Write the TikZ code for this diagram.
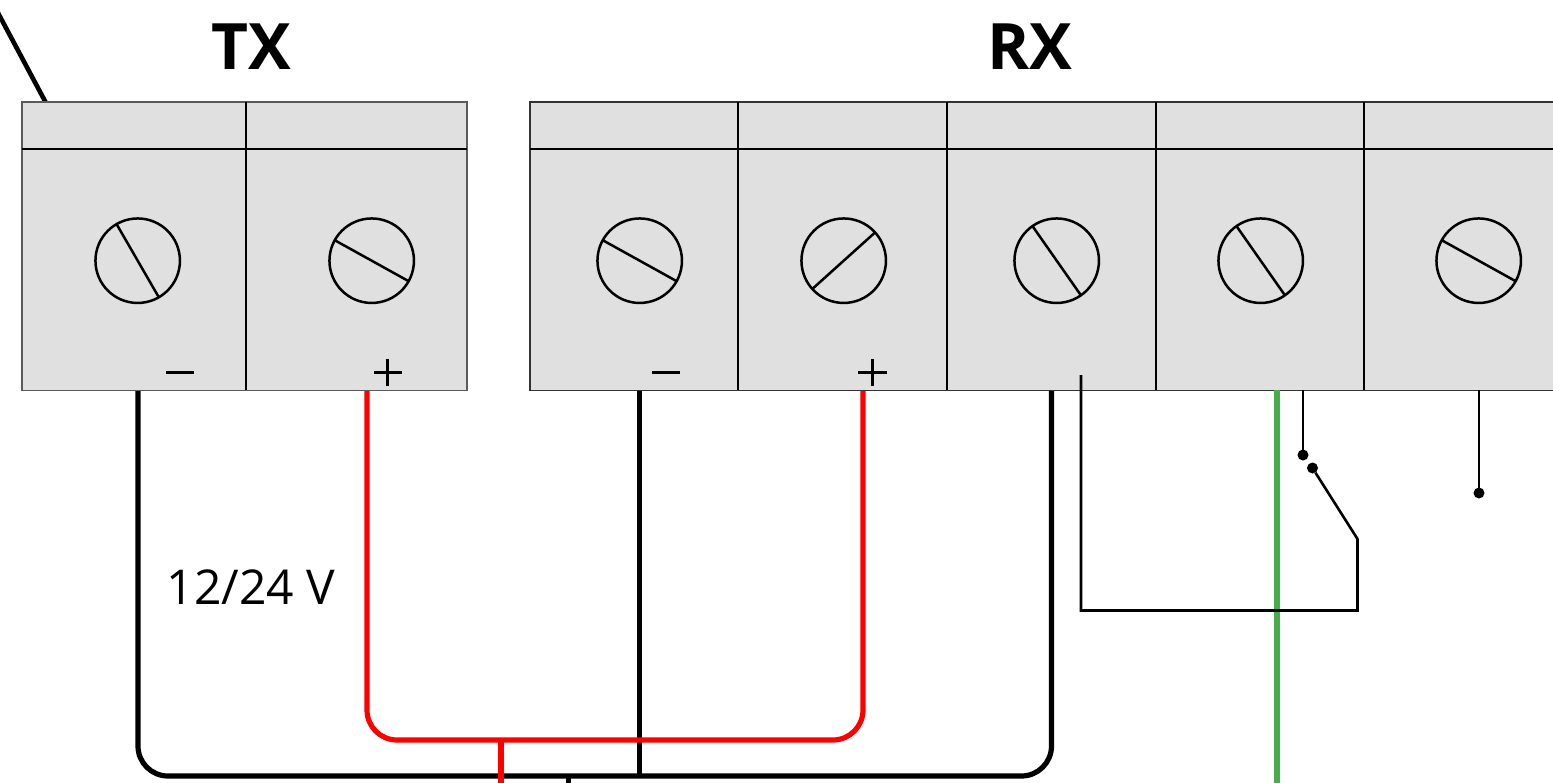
\documentclass[tikz,border=0pt]{standalone}
\usepackage{fontspec}
\setmainfont{Open Sans}
\definecolor{cellgrey}{HTML}{E0E0E0}
\definecolor{edgegrey}{HTML}{5A5A5A}
\definecolor{wirered}{HTML}{FF0000}
\definecolor{wiregreen}{HTML}{46AF4A}
\begin{document}
\begin{tikzpicture}[x=1pt,y=-1pt,
  blockbox/.style={draw=edgegrey,fill=cellgrey,line width=1.9pt,minimum height=288.5pt,anchor=north west,inner sep=0pt,outer sep=0pt},
  rule/.style={draw=black,line width=2pt},
  screw/.style={circle,draw=black,line width=2.5pt,minimum size=84.5pt,inner sep=0pt,outer sep=0pt},
  slot/.style={draw=black,line width=2.5pt},
  sign/.style={draw=black,line width=2.4pt},
  powerwire/.style={draw=black,line width=5.2pt,rounded corners=30pt},
  redwire/.style={draw=wirered,line width=5.2pt,rounded corners=30pt},
  greenwire/.style={draw=wiregreen,line width=5.4pt},
  thinwire/.style={draw=black,line width=2.6pt,line join=miter},
  contact/.style={circle,fill=black,minimum size=11pt,inner sep=0pt,outer sep=0pt},
  title/.style={font=\bfseries\fontsize{64}{64}\selectfont,inner sep=0pt,anchor=base},
  volt/.style={font=\fontsize{48}{48}\selectfont,inner sep=0pt,anchor=base}]
\useasboundingbox (0,0) rectangle (1553,782);
\clip (0,0) rectangle (1553,782);
\fill[white] (0,0) rectangle (1553,782);

% antenna
\coordinate (antA) at (-3,11);
\coordinate (antB) at (46,103);
\draw[black,line width=4.6pt] (antA) -- (antB);

% wire end points
\coordinate (txneg) at (138,390);
\coordinate (txpos) at (367,390);
\coordinate (rxneg) at (639.5,390);
\coordinate (rxpos) at (863,390);
\coordinate (rxcom) at (1051.5,390);
\coordinate (rxgrn) at (1277,390);
\coordinate (redbus) at (501,740);
\coordinate (blkbus) at (639.5,776);
\coordinate (redout) at (501,790);
\coordinate (blkstub) at (568.5,776);
\coordinate (blkout) at (568.5,790);
\coordinate (grnout) at (1277,790);
\coordinate (t6) at (1303,390);
\coordinate (t7) at (1479,390);

% power wires
\draw[powerwire] (txneg) |- (rxcom |- blkbus) -- (rxcom);
\draw[black,line width=5.2pt] (rxneg) -- (blkbus);
\draw[black,line width=4.4pt] (blkstub) -- (blkout);
\draw[redwire] (txpos) |- (rxpos |- redbus) -- (rxpos);
\draw[draw=wirered,line width=5.2pt] (redbus) -- (redout);

% blocks
\node[blockbox,minimum width=445pt] (tx) at (22,102) {};
\node[blockbox,minimum width=1060pt,draw=black!80] (rx) at (530,102) {};

\draw[rule] (22,149.2) -- (467,149.2);
\draw[rule] (246,102) -- (246,390);
\draw[rule] (530,149.2) -- (1560,149.2);
\foreach \xx in {737.7,946.7,1155.7,1364} \draw[rule] (\xx,102) -- (\xx,390);

% screws
\node[screw] (s1) at (137.7,260.7) {};
\node[screw] (s2) at (371.7,260.7) {};
\node[screw] (s3) at (639.7,260.7) {};
\node[screw] (s4) at (843.7,260.7) {};
\node[screw] (s5) at (1056.7,260.7) {};
\node[screw] (s6) at (1260.7,260.7) {};
\node[screw] (s7) at (1478.7,260.7) {};
\draw[slot] (s1.120) -- (s1.-60);
\draw[slot] (s2.151) -- (s2.-29);
\draw[slot] (s3.151) -- (s3.-29);
\draw[slot] (s4.42) -- (s4.222);
\draw[slot] (s5.125) -- (s5.-55);
\draw[slot] (s6.125) -- (s6.-55);
\draw[slot] (s7.151) -- (s7.-29);

% polarity signs
\draw[sign] (166,372.5) -- (194,372.5);
\draw[sign] (652,372.5) -- (680,372.5);
\draw[sign] (374,372.5) -- (402,372.5) (387.5,358.5) -- (387.5,386);
\draw[sign] (858,372.5) -- (887,372.5) (872.5,358.5) -- (872.5,386);

% thin relay wiring
\node[contact] (c1) at (1303,455) {};
\node[contact] (c2) at (1312.5,468) {};
\node[contact] (c3) at (1479,493) {};
\coordinate (relayA) at (1081,375);
\coordinate (relayB) at (1081,610.5);
\coordinate (relayC) at (1357.5,610.5);
\coordinate (relayD) at (1357.5,539);
\draw[greenwire] (rxgrn) -- (grnout);
\draw[thinwire] (relayA) -- (relayB) -- (relayC) -- (relayD) -- (c2);
\draw[thinwire] (t6) -- (c1);
\draw[thinwire] (t7) -- (c3);

% labels
\node[title] (txlabel) at (251,69.5) {TX};
\node[title] (rxlabel) at (1030,69.5) {RX};
\node[volt] (vlabel) at (251,604.5) {12/24 V};
\end{tikzpicture}
\end{document}
